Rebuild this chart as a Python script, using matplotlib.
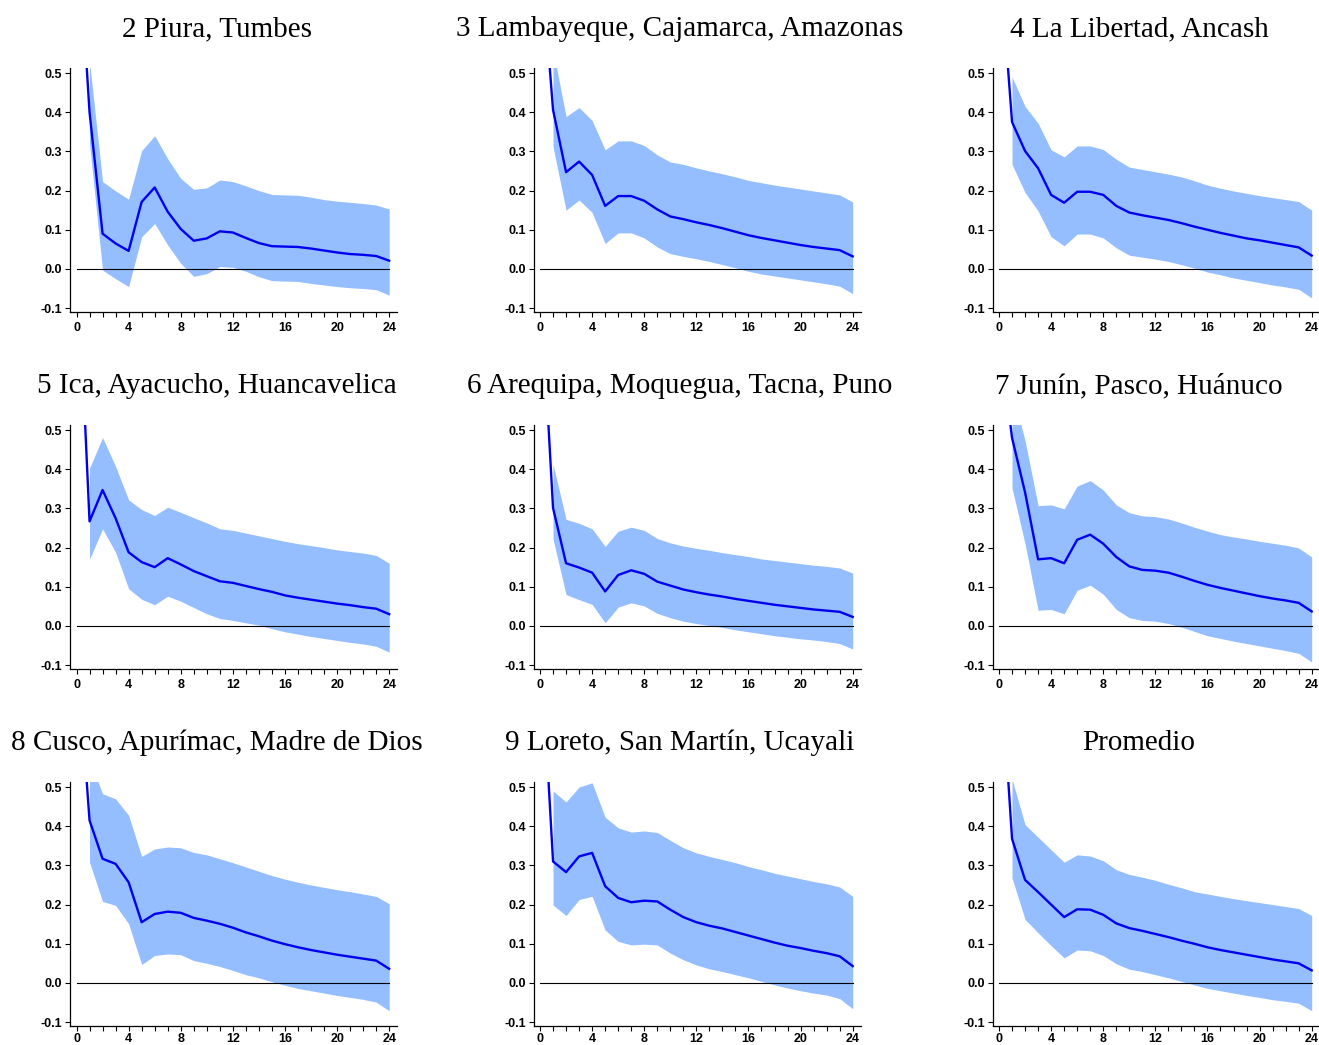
import matplotlib
matplotlib.use("Agg")
import matplotlib.pyplot as plt
from matplotlib.ticker import MultipleLocator, FixedLocator, FuncFormatter

plt.rcParams['axes.unicode_minus'] = False

horizon = list(range(25))
band_h = list(range(1, 25))

titles = ["2 Piura, Tumbes", "3 Lambayeque, Cajamarca, Amazonas", "4 La Libertad, Ancash",
          "5 Ica, Ayacucho, Huancavelica", "6 Arequipa, Moquegua, Tacna, Puno", "7 Junín, Pasco, Huánuco",
          "8 Cusco, Apurímac, Madre de Dios", "9 Loreto, San Martín, Ucayali", "Promedio"]

piura_mean = [0.93, 0.40, 0.090, 0.065, 0.046, 0.171, 0.208, 0.146, 0.102, 0.072, 0.078, 0.096, 0.093, 0.079, 0.066, 0.058, 0.057, 0.056, 0.052, 0.047, 0.042, 0.038, 0.036, 0.033, 0.021]
piura_hi = [0.53, 0.223, 0.199, 0.178, 0.302, 0.340, 0.281, 0.231, 0.203, 0.207, 0.227, 0.223, 0.212, 0.200, 0.190, 0.189, 0.188, 0.183, 0.177, 0.173, 0.170, 0.167, 0.163, 0.153]
piura_lo = [0.32, -0.003, -0.025, -0.045, 0.082, 0.116, 0.061, 0.014, -0.019, -0.012, 0.006, 0.004, -0.006, -0.020, -0.030, -0.031, -0.032, -0.037, -0.041, -0.045, -0.048, -0.050, -0.053, -0.067]

lamb_mean = [0.83, 0.406, 0.247, 0.274, 0.240, 0.161, 0.186, 0.186, 0.174, 0.152, 0.134, 0.127, 0.119, 0.112, 0.104, 0.095, 0.086, 0.079, 0.073, 0.067, 0.061, 0.056, 0.052, 0.048, 0.032]
lamb_hi = [0.56, 0.389, 0.412, 0.379, 0.304, 0.327, 0.327, 0.315, 0.291, 0.273, 0.267, 0.258, 0.250, 0.243, 0.235, 0.226, 0.220, 0.214, 0.209, 0.204, 0.199, 0.194, 0.189, 0.171]
lamb_lo = [0.312, 0.150, 0.176, 0.144, 0.065, 0.092, 0.092, 0.079, 0.056, 0.039, 0.032, 0.026, 0.019, 0.011, 0.003, -0.006, -0.013, -0.018, -0.023, -0.028, -0.033, -0.038, -0.044, -0.063]

lib_mean = [0.82, 0.375, 0.301, 0.257, 0.189, 0.169, 0.197, 0.197, 0.189, 0.161, 0.144, 0.137, 0.131, 0.125, 0.117, 0.108, 0.100, 0.092, 0.085, 0.078, 0.073, 0.067, 0.061, 0.055, 0.034]
lib_hi = [0.49, 0.415, 0.372, 0.304, 0.286, 0.314, 0.314, 0.305, 0.280, 0.260, 0.254, 0.248, 0.242, 0.235, 0.225, 0.214, 0.206, 0.199, 0.193, 0.187, 0.182, 0.177, 0.172, 0.150]
lib_lo = [0.267, 0.195, 0.148, 0.082, 0.059, 0.089, 0.089, 0.079, 0.054, 0.035, 0.030, 0.025, 0.019, 0.011, 0.002, -0.008, -0.015, -0.023, -0.029, -0.035, -0.041, -0.046, -0.052, -0.074]

ica_mean = [1.0, 0.267, 0.347, 0.275, 0.188, 0.163, 0.150, 0.173, 0.157, 0.140, 0.127, 0.114, 0.110, 0.102, 0.094, 0.087, 0.078, 0.072, 0.067, 0.062, 0.057, 0.053, 0.048, 0.044, 0.030]
ica_hi = [0.403, 0.481, 0.407, 0.322, 0.297, 0.282, 0.303, 0.290, 0.276, 0.263, 0.248, 0.244, 0.237, 0.230, 0.223, 0.216, 0.210, 0.205, 0.200, 0.194, 0.190, 0.186, 0.180, 0.160]
ica_lo = [0.170, 0.248, 0.188, 0.095, 0.068, 0.054, 0.076, 0.063, 0.047, 0.031, 0.019, 0.014, 0.008, 0.002, -0.007, -0.015, -0.021, -0.027, -0.032, -0.037, -0.042, -0.046, -0.052, -0.067]

areq_mean = [0.90, 0.301, 0.160, 0.149, 0.136, 0.088, 0.130, 0.142, 0.133, 0.113, 0.103, 0.093, 0.086, 0.080, 0.075, 0.069, 0.064, 0.059, 0.054, 0.050, 0.046, 0.042, 0.039, 0.036, 0.023]
areq_hi = [0.413, 0.272, 0.262, 0.248, 0.203, 0.242, 0.252, 0.244, 0.223, 0.212, 0.204, 0.198, 0.193, 0.187, 0.182, 0.177, 0.171, 0.167, 0.163, 0.159, 0.155, 0.152, 0.148, 0.135]
areq_lo = [0.222, 0.080, 0.067, 0.055, 0.008, 0.048, 0.059, 0.051, 0.032, 0.021, 0.012, 0.006, 0.001, -0.004, -0.010, -0.015, -0.020, -0.025, -0.029, -0.033, -0.036, -0.040, -0.045, -0.059]

junin_mean = [0.75, 0.480, 0.341, 0.170, 0.173, 0.160, 0.220, 0.233, 0.210, 0.176, 0.152, 0.143, 0.141, 0.136, 0.126, 0.115, 0.105, 0.097, 0.090, 0.083, 0.076, 0.070, 0.065, 0.059, 0.037]
junin_hi = [0.60, 0.473, 0.307, 0.309, 0.299, 0.357, 0.371, 0.347, 0.309, 0.289, 0.281, 0.279, 0.273, 0.263, 0.252, 0.242, 0.233, 0.227, 0.222, 0.216, 0.211, 0.206, 0.199, 0.176]
junin_lo = [0.352, 0.210, 0.040, 0.042, 0.031, 0.091, 0.104, 0.081, 0.042, 0.021, 0.014, 0.012, 0.006, -0.003, -0.014, -0.025, -0.032, -0.039, -0.045, -0.051, -0.057, -0.063, -0.070, -0.092]

cusco_mean = [0.87, 0.415, 0.317, 0.304, 0.257, 0.155, 0.176, 0.182, 0.179, 0.166, 0.159, 0.151, 0.141, 0.129, 0.119, 0.108, 0.099, 0.091, 0.084, 0.078, 0.072, 0.067, 0.062, 0.057, 0.036]
cusco_hi = [0.57, 0.483, 0.470, 0.428, 0.323, 0.342, 0.347, 0.345, 0.333, 0.327, 0.317, 0.307, 0.296, 0.285, 0.274, 0.265, 0.257, 0.250, 0.244, 0.238, 0.233, 0.227, 0.221, 0.202]
cusco_lo = [0.308, 0.208, 0.198, 0.151, 0.047, 0.070, 0.074, 0.072, 0.057, 0.050, 0.042, 0.032, 0.021, 0.013, 0.003, -0.006, -0.014, -0.020, -0.026, -0.032, -0.037, -0.042, -0.049, -0.071]

loreto_mean = [0.90, 0.310, 0.283, 0.323, 0.332, 0.247, 0.217, 0.206, 0.210, 0.208, 0.187, 0.168, 0.155, 0.146, 0.139, 0.130, 0.121, 0.112, 0.103, 0.095, 0.089, 0.082, 0.076, 0.068, 0.043]
loreto_hi = [0.49, 0.462, 0.500, 0.511, 0.423, 0.396, 0.385, 0.388, 0.384, 0.364, 0.345, 0.332, 0.323, 0.315, 0.307, 0.297, 0.289, 0.280, 0.273, 0.266, 0.259, 0.253, 0.245, 0.221]
loreto_lo = [0.199, 0.172, 0.213, 0.221, 0.135, 0.106, 0.097, 0.099, 0.097, 0.076, 0.059, 0.046, 0.036, 0.029, 0.021, 0.013, 0.004, -0.005, -0.013, -0.020, -0.026, -0.031, -0.040, -0.066]

prom_mean = [0.88, 0.368, 0.263, 0.232, 0.200, 0.168, 0.188, 0.187, 0.174, 0.152, 0.140, 0.133, 0.125, 0.117, 0.108, 0.100, 0.091, 0.084, 0.078, 0.072, 0.066, 0.060, 0.055, 0.050, 0.032]
prom_hi = [0.52, 0.404, 0.372, 0.340, 0.308, 0.327, 0.324, 0.312, 0.289, 0.277, 0.270, 0.262, 0.252, 0.243, 0.233, 0.227, 0.221, 0.215, 0.210, 0.205, 0.200, 0.195, 0.190, 0.172]
prom_lo = [0.268, 0.162, 0.128, 0.095, 0.064, 0.084, 0.082, 0.070, 0.049, 0.035, 0.029, 0.021, 0.013, 0.004, -0.005, -0.014, -0.020, -0.026, -0.032, -0.037, -0.043, -0.047, -0.052, -0.071]

panels = [
    (piura_mean, piura_lo, piura_hi),
    (lamb_mean, lamb_lo, lamb_hi),
    (lib_mean, lib_lo, lib_hi),
    (ica_mean, ica_lo, ica_hi),
    (areq_mean, areq_lo, areq_hi),
    (junin_mean, junin_lo, junin_hi),
    (cusco_mean, cusco_lo, cusco_hi),
    (loreto_mean, loreto_lo, loreto_hi),
    (prom_mean, prom_lo, prom_hi),
]

yticks = [-0.1, 0.0, 0.1, 0.2, 0.3, 0.4, 0.5]
xticks = [0, 4, 8, 12, 16, 20, 24]

W, H = 1319, 1045
fig = plt.figure(figsize=(W / 100, H / 100), dpi=100)

col_left = [70, 533.5, 992.5]
row_top = [68, 425, 782]
ax_w, ax_h = 327, 244

band_color = "#94BEFF"
line_color = "#0000F0"

for i, (mean, lo, hi) in enumerate(panels):
    r, c = divmod(i, 3)
    left = col_left[c] / W
    bottom = 1 - (row_top[r] + ax_h) / H
    ax = fig.add_axes([left, bottom, ax_w / W, ax_h / H])
    ax.fill_between(band_h, lo, hi, color=band_color, linewidth=0)
    ax.plot([0, 24], [0, 0], color="black", linewidth=0.8)
    ax.plot(horizon, mean, color=line_color, linewidth=1.7)
    ax.set_xlim(-0.5, 24.6)
    ax.set_ylim(-0.11, 0.513)
    for s in ["top", "right"]:
        ax.spines[s].set_visible(False)
    for s in ["left", "bottom"]:
        ax.spines[s].set_linewidth(0.9)
    ax.yaxis.set_major_locator(FixedLocator(yticks))
    ax.yaxis.set_major_formatter(FuncFormatter(lambda v, p: f"{v:.1f}"))
    ax.xaxis.set_major_locator(FixedLocator(xticks))
    ax.xaxis.set_minor_locator(MultipleLocator(1))
    ax.tick_params(axis="both", which="both", direction="out", length=3.5, width=0.8)
    ax.tick_params(axis="y", pad=2)
    ax.tick_params(axis="x", pad=(1.5 if r == 2 else 4))
    for lab in ax.get_xticklabels() + ax.get_yticklabels():
        lab.set_fontfamily("Liberation Sans")
        lab.set_fontweight("bold")
        lab.set_fontsize(9)
    cx = (col_left[c] + ax_w / 2 - 17) / W
    ty = 1 - (row_top[r] - 32) / H
    fig.text(cx, ty, titles[i], ha="center", va="baseline",
             family="Liberation Serif", fontsize=21)

fig.savefig("out.png", dpi=100)
